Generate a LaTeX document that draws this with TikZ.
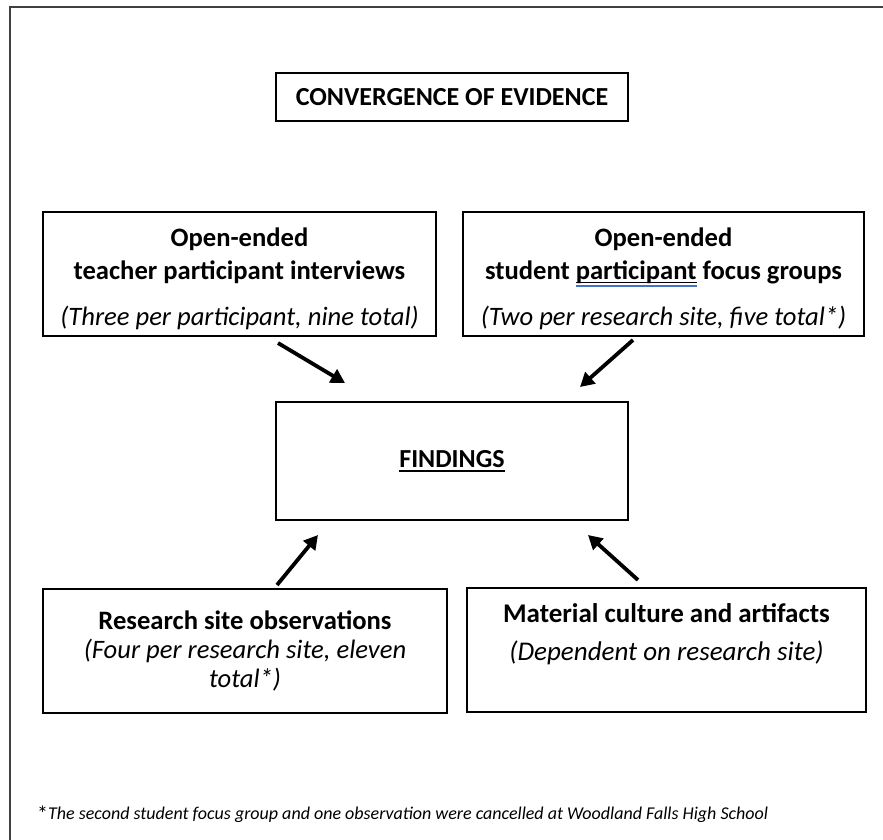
\documentclass[tikz,border=0pt]{standalone}
\usepackage{fontspec}
\setmainfont{Carlito}
\usetikzlibrary{arrows.meta}
\definecolor{framegray}{HTML}{404040}
\definecolor{spellblue}{HTML}{4472C4}
\newcommand\wordul[1]{\setbox0=\hbox{#1}\rlap{\rule[-3.5pt]{\wd0}{1.2pt}}\rlap{\textcolor{spellblue}{\rule[-5.4pt]{\wd0}{0.6pt}}}\rlap{\textcolor{spellblue}{\rule[-7pt]{\wd0}{0.6pt}}}#1}
\newcommand\plainul[1]{\setbox0=\hbox{#1}\rlap{\rule[-4.5pt]{\wd0}{1.4pt}}#1}
\newcommand\topgap{\rule{0pt}{29pt}}
\begin{document}
\begin{tikzpicture}[x=1pt,y=-1pt,
  box/.style={draw=black,line width=1.2pt,inner sep=0pt,align=center},
  arr/.style={line width=3.8pt,-{Triangle[length=14pt,width=15pt]}},
  bodytext/.style={font=\fontsize{26.6}{33}\selectfont},
  titletext/.style={font=\fontsize{26}{30}\selectfont\bfseries}]
\useasboundingbox (0,0) rectangle (883,840);
\draw[framegray,line width=2pt] (10,840) -- (10,7) -- (883,7);

\node[box,titletext,minimum width=352pt,minimum height=48pt] (title) at (452,97) {CONVERGENCE OF EVIDENCE};

\node[box,bodytext,minimum width=393pt,minimum height=124pt] (tl) at (239.5,274)
  {\topgap\textbf{Open-ended}\\\textbf{teacher participant interviews}\\[13pt]\textit{(Three per participant, nine total)}};
\node[box,bodytext,minimum width=401pt,minimum height=124pt] (tr) at (663.5,274)
  {\topgap\textbf{Open-ended}\\\textbf{student \wordul{participant} focus groups}\\[13pt]\textit{(Two per research site, five total*)}};

\node[box,titletext,minimum width=352pt,minimum height=118pt] (find) at (452,461) {\plainul{FINDINGS}};

\node[box,minimum width=404pt,minimum height=124pt,font=\fontsize{26.6}{29}\selectfont] (rs) at (245,651)
  {\textbf{Research site observations}\\\textit{(Four per research site, eleven}\\\textit{total*)}};
\node[box,minimum width=399pt,minimum height=124pt,font=\fontsize{27}{38}\selectfont] (mc) at (666.5,650)
  {\textbf{Material culture and artifacts}\\\textit{(Dependent on research site)}\\[-14pt]\strut};

\coordinate (a1s) at (278,343); \coordinate (a1e) at (345,383);
\coordinate (a2s) at (633,340); \coordinate (a2e) at (580,387);
\coordinate (a3s) at (277,585); \coordinate (a3e) at (318,535);
\coordinate (a4s) at (638,580); \coordinate (a4e) at (588,535);
\draw[arr] (a1s) -- (a1e);
\draw[arr] (a2s) -- (a2e);
\draw[arr] (a3s) -- (a3e);
\draw[arr] (a4s) -- (a4e);

\node[anchor=base west,inner sep=0pt] (note) at (37,819)
  {{\fontsize{22}{24}\selectfont\raisebox{-2pt}{*}}{\fontsize{18}{22}\selectfont\itshape The second student focus group and one observation were cancelled at Woodland Falls High School}};
\end{tikzpicture}
\end{document}
